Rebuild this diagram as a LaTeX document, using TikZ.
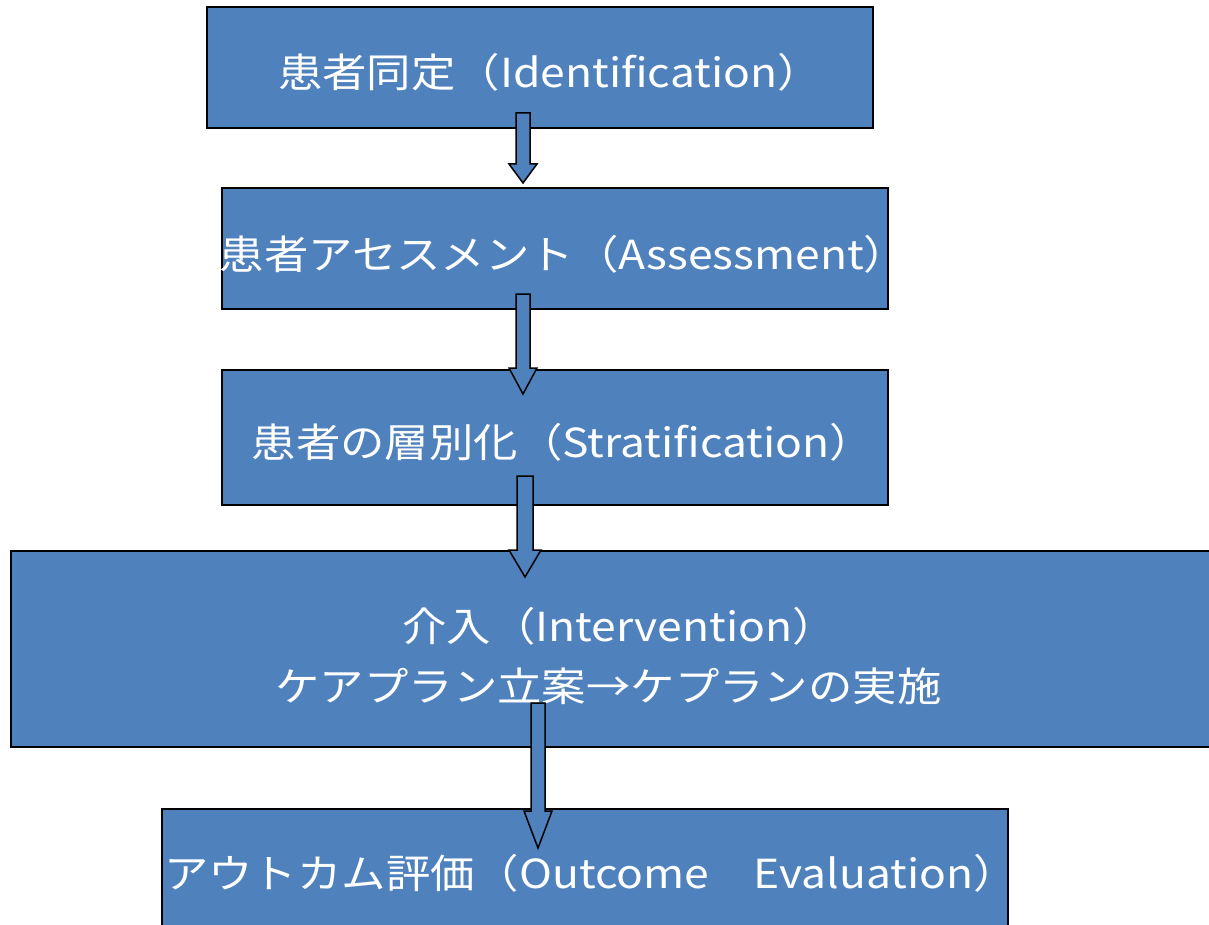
\documentclass[tikz,border=0pt]{standalone}
\usepackage{fontspec}
\setmainfont{Noto Sans CJK JP}
\definecolor{boxblue}{HTML}{4F81BD}
\usetikzlibrary{calc}
\tikzset{
  flowbox/.style={draw=black, line width=1.5pt, fill=boxblue, inner sep=0pt},
  flowtext/.style={text=white, inner sep=0pt, xscale=1.11, transform shape,
    font=\fontsize{40}{60}\selectfont},
  blkarrow/.style={draw=black, line width=1.5pt, fill=boxblue, line join=miter}
}
\newcommand\blockarr[5]{%
  \draw[blkarrow] let \p1=(#1), \p2=(#2) in
    (\x1-#3,\y1) -- (\x1+#3,\y1) -- (\x1+#3,\y2+#5) -- (\x1+#4,\y2+#5) -- (\x1,\y2)
    -- (\x1-#4,\y2+#5) -- (\x1-#3,\y2+#5) -- cycle;}
\begin{document}
\begin{tikzpicture}[x=1pt,y=-1pt]
\useasboundingbox (0,0) rectangle (1209,925);
\clip (0,0) rectangle (1209,925);
\node[flowbox, minimum width=666pt, minimum height=121pt] (b1) at (540,67.5) {};
\node[flowtext] (t1) at (550,72) {患者同定（Identification）};
\node[flowbox, minimum width=666pt, minimum height=121pt] (b2) at (555,248.5) {};
\node[flowtext] (t2) at (564,254) {患者アセスメント（Assessment）};
\node[flowbox, minimum width=666pt, minimum height=135pt] (b3) at (555,437.5) {};
\node[flowtext] (t3) at (563,442) {患者の層別化（Stratification）};
\node[flowbox, minimum width=1210pt, minimum height=196pt] (b4) at (616,649) {};
\node[flowtext] (t4a) at (619.5,626) {介入（Intervention）};
\node[flowtext] (t4b) at (608.5,686) {ケアプラン立案→ケプランの実施};
\node[flowbox, minimum width=846pt, minimum height=130pt] (b5) at (585,874) {};
\node[flowtext] (t5) at (591,873) {アウトカム評価（Outcome　Evaluation）};
\coordinate (a1s) at (523,113); \coordinate (a1e) at (523,183);
\coordinate (a2s) at (523,294); \coordinate (a2e) at (523,394);
\coordinate (a3s) at (525,476); \coordinate (a3e) at (525,577);
\coordinate (a4s) at (538,703); \coordinate (a4e) at (538,848);
\blockarr{a1s}{a1e}{7pt}{14pt}{19pt}
\blockarr{a2s}{a2e}{7pt}{14pt}{26pt}
\blockarr{a3s}{a3e}{8pt}{16pt}{27pt}
\blockarr{a4s}{a4e}{7pt}{14pt}{37pt}
\end{tikzpicture}
\end{document}
